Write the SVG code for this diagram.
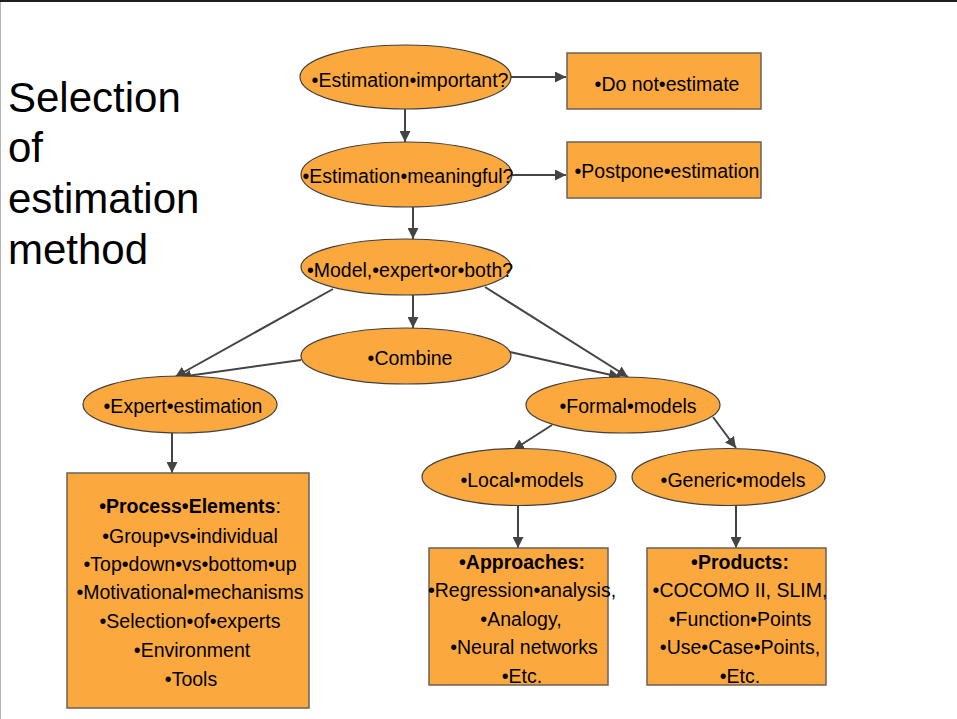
<svg xmlns="http://www.w3.org/2000/svg" width="957" height="719" viewBox="0 0 957 719">
<style>
.bg{fill:#ffffff}
.el{fill:#FBA93E;stroke:#3f3f3f;stroke-width:1.2}
.bx{fill:#FBA93E;stroke:#6b6257;stroke-width:1.5}
.t{font-family:"Liberation Sans",Arial,Helvetica,sans-serif;font-size:19.5px;fill:#000;text-anchor:middle}
.b{font-weight:bold}
.title{font-family:"Liberation Sans",Arial,Helvetica,sans-serif;font-size:42px;fill:#000}
.c{stroke:#444;stroke-width:2;fill:none;marker-end:url(#ah)}
</style>
<defs>
<marker id="ah" viewBox="0 0 10 10" refX="10" refY="5" markerWidth="11" markerHeight="11" markerUnits="userSpaceOnUse" orient="auto">
<path d="M0,0 L10,5 L0,10 z" fill="#444"/>
</marker>
</defs>
<rect class="bg" x="0" y="0" width="957" height="719"/>
<line x1="0" y1="1" x2="957" y2="1" stroke="#1e1e1e" stroke-width="2"/>
<line x1="0.5" y1="2" x2="0.5" y2="719" stroke="#b5b5b5" stroke-width="1"/>

<g id="title">
<text class="title" x="8" y="112">Selection</text>
<text class="title" x="8" y="162">of</text>
<text class="title" x="8" y="213">estimation</text>
<text class="title" x="8" y="264">method</text>
</g>

<g id="connectors">
<line class="c" x1="511" y1="77" x2="566" y2="77"/>
<line class="c" x1="405" y1="109" x2="405" y2="142"/>
<line class="c" x1="512" y1="175" x2="566" y2="175"/>
<line class="c" x1="413" y1="207" x2="413" y2="239"/>
<line class="c" x1="413" y1="295" x2="413" y2="328"/>
<line class="c" x1="333" y1="289" x2="175" y2="377"/>
<line class="c" x1="301" y1="360" x2="180" y2="377"/>
<line class="c" x1="485" y1="287" x2="628" y2="377"/>
<line class="c" x1="510" y1="352" x2="620" y2="377"/>
<line class="c" x1="172" y1="433" x2="172" y2="473"/>
<line class="c" x1="552" y1="425" x2="513" y2="450"/>
<line class="c" x1="713" y1="417" x2="736" y2="448"/>
<line class="c" x1="518" y1="505" x2="518" y2="548"/>
<line class="c" x1="736" y1="505" x2="736" y2="548"/>
</g>

<g id="n-important">
<ellipse class="el" cx="405.5" cy="77" rx="105.5" ry="32"/>
<text class="t" x="410" y="87">•Estimation•important?</text>
</g>
<g id="n-donot">
<rect class="bx" x="567" y="53" width="194" height="56"/>
<text class="t" x="667" y="91">•Do not•estimate</text>
</g>
<g id="n-meaningful">
<ellipse class="el" cx="406.5" cy="174.5" rx="105.5" ry="32.5"/>
<text class="t" x="408" y="183">•Estimation•meaningful?</text>
</g>
<g id="n-postpone">
<rect class="bx" x="567" y="142" width="194" height="56"/>
<text class="t" x="667" y="178">•Postpone•estimation</text>
</g>
<g id="n-model">
<ellipse class="el" cx="406" cy="267" rx="105" ry="28"/>
<text class="t" x="410" y="277">•Model,•expert•or•both?</text>
</g>
<g id="n-combine">
<ellipse class="el" cx="406" cy="356" rx="105" ry="28"/>
<text class="t" x="410" y="365">•Combine</text>
</g>
<g id="n-expert">
<ellipse class="el" cx="180" cy="404.5" rx="97" ry="28.5"/>
<text class="t" x="183" y="413">•Expert•estimation</text>
</g>
<g id="n-formal">
<ellipse class="el" cx="623" cy="405" rx="97" ry="28"/>
<text class="t" x="628" y="413">•Formal•models</text>
</g>
<g id="n-local">
<ellipse class="el" cx="519" cy="477" rx="97" ry="28.5"/>
<text class="t" x="522" y="487">•Local•models</text>
</g>
<g id="n-generic">
<ellipse class="el" cx="728.5" cy="477" rx="96.5" ry="28.5"/>
<text class="t" x="733" y="487">•Generic•models</text>
</g>
<g id="n-process">
<rect class="bx" x="67" y="473" width="242" height="235"/>
<text class="t" x="190" y="513"><tspan class="b">•Process•Elements</tspan>:</text>
<text class="t" x="190" y="543">•Group•vs•individual</text>
<text class="t" x="190" y="571">•Top•down•vs•bottom•up</text>
<text class="t" x="190" y="599">•Motivational•mechanisms</text>
<text class="t" x="190" y="628">•Selection•of•experts</text>
<text class="t" x="192" y="657">•Environment</text>
<text class="t" x="191" y="686">•Tools</text>
</g>
<g id="n-approaches">
<rect class="bx" x="429" y="548" width="179" height="137"/>
<text class="t b" x="522" y="569">•Approaches:</text>
<text class="t" x="522" y="597">•Regression•analysis,</text>
<text class="t" x="521" y="626">•Analogy,</text>
<text class="t" x="524" y="654">•Neural networks</text>
<text class="t" x="522" y="683">•Etc.</text>
</g>
<g id="n-products">
<rect class="bx" x="647" y="548" width="179" height="137"/>
<text class="t b" x="740" y="569">•Products:</text>
<text class="t" x="740" y="597">•COCOMO II, SLIM,</text>
<text class="t" x="740" y="626">•Function•Points</text>
<text class="t" x="740" y="654">•Use•Case•Points,</text>
<text class="t" x="740" y="683">•Etc.</text>
</g>
</svg>
